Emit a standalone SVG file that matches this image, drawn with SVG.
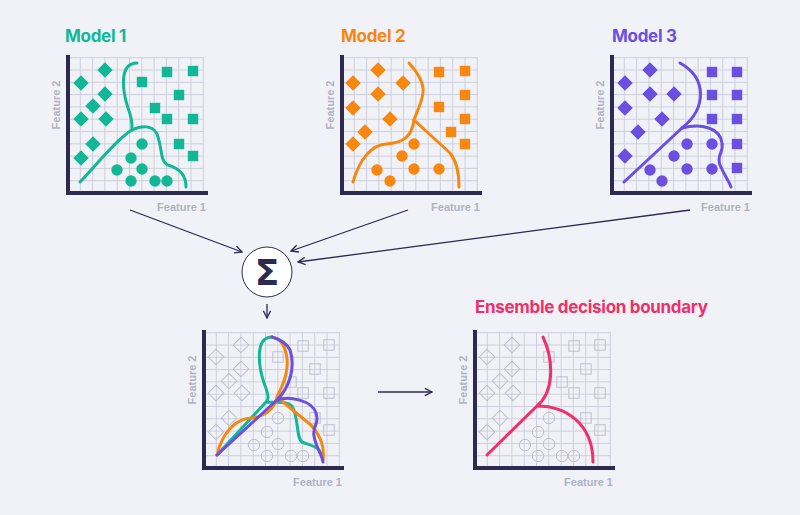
<svg xmlns="http://www.w3.org/2000/svg" xmlns:xlink="http://www.w3.org/1999/xlink" width="800" height="515" viewBox="0 0 800 515">
<style>
.grid{stroke:#cdd0dc;stroke-width:1;fill:none}
.axis{stroke:#2c2b4f;stroke-width:4;fill:none;stroke-linecap:square}
.ft{font-family:"Liberation Sans",Arial,sans-serif;font-size:11px;font-weight:bold;fill:#aeb2c4}
.title{font-family:Inter,"Liberation Sans",sans-serif;font-size:17px;font-weight:bold;letter-spacing:-0.3px}
.cv{fill:none;stroke-width:3;stroke-linecap:round;stroke-linejoin:round}
.ol{fill:none;stroke:#bcc0cf;stroke-width:1}
.conn{stroke:#2c2b4f;stroke-width:1.3;fill:none}
</style>
<defs>
<marker id="ah" viewBox="0 0 10 10" refX="9" refY="5" markerWidth="9" markerHeight="9" orient="auto" markerUnits="userSpaceOnUse"><path d="M1,1 L9,5 L1,9" fill="none" stroke="#2c2b4f" stroke-width="1.5"/></marker>
<g id="plot">
<path class="grid" d="M12.3,-136V0M24.6,-136V0M36.9,-136V0M49.2,-136V0M61.5,-136V0M73.8,-136V0M86.1,-136V0M98.4,-136V0M110.7,-136V0M123,-136V0M135.3,-136V0M0,-12.3H136M0,-24.6H136M0,-36.9H136M0,-49.2H136M0,-61.5H136M0,-73.8H136M0,-86.1H136M0,-98.4H136M0,-110.7H136M0,-123H136M0,-135.3H136"/>
<path class="axis" d="M0,-136V0H138"/>
</g>
<rect id="d" x="-5.5" y="-5.5" width="11" height="11" transform="rotate(45)"/>
<rect id="s" x="-5.2" y="-5.2" width="10.4" height="10.4"/>
<circle id="c" r="5.7"/>
<g id="ghost" class="ol">
<use href="#d" x="37" y="-123"/><use href="#d" x="12" y="-111"/><use href="#d" x="37" y="-99"/><use href="#d" x="25" y="-87"/><use href="#d" x="12" y="-75"/><use href="#d" x="38" y="-75"/><use href="#d" x="25" y="-50"/><use href="#d" x="12" y="-36"/>
<use href="#s" x="74" y="-111"/><use href="#s" x="99" y="-122"/><use href="#s" x="125" y="-123"/><use href="#s" x="111" y="-99"/><use href="#s" x="87" y="-86"/><use href="#s" x="99" y="-75"/><use href="#s" x="125" y="-75"/><use href="#s" x="111" y="-50"/><use href="#s" x="125" y="-38"/>
<use href="#c" x="74" y="-50"/><use href="#c" x="63" y="-36"/><use href="#c" x="50" y="-23"/><use href="#c" x="74" y="-24"/><use href="#c" x="63" y="-12"/><use href="#c" x="87" y="-12"/><use href="#c" x="99" y="-12"/>
</g>
</defs>
<rect width="800" height="515" fill="#f1f2f7"/>

<g id="model1" transform="translate(68,193)">
<text class="title" x="-3" y="-151" fill="#12b896">Model 1</text>
<use href="#plot"/>
<text class="ft" transform="translate(-8,-88) rotate(-90)" text-anchor="middle">Feature 2</text>
<text class="ft" x="138" y="18" text-anchor="end">Feature 1</text>
<g fill="#12b896">
<use href="#d" x="37" y="-123"/><use href="#d" x="13" y="-110"/><use href="#d" x="37" y="-99"/><use href="#d" x="25" y="-87"/><use href="#d" x="13" y="-74"/><use href="#d" x="38" y="-74"/><use href="#d" x="25" y="-49"/><use href="#d" x="13" y="-35"/>
<use href="#s" x="74" y="-111"/><use href="#s" x="99" y="-121"/><use href="#s" x="125" y="-122"/><use href="#s" x="111" y="-98"/><use href="#s" x="87" y="-85"/><use href="#s" x="99" y="-74"/><use href="#s" x="125" y="-74"/><use href="#s" x="111" y="-49"/><use href="#s" x="125" y="-37"/>
<use href="#c" x="74" y="-49"/><use href="#c" x="63" y="-35"/><use href="#c" x="49" y="-23"/><use href="#c" x="74" y="-24"/><use href="#c" x="63" y="-12"/><use href="#c" x="87" y="-12"/><use href="#c" x="99" y="-12"/>
</g>
<g class="cv" stroke="#12b896">
<path d="M69,-130 C50,-130 55,-100 60,-85 C65,-72 64,-66 64,-63"/>
<path d="M12,-11 C30,-30 50,-55 64,-63 C75,-68 87,-68 90,-56 C95,-40 92,-32 100,-28 C112,-24 118,-18 118,-6"/>
</g>
</g>

<g id="model2" transform="translate(342,193)">
<text class="title" x="-1" y="-151" fill="#f7870f">Model 2</text>
<use href="#plot"/>
<text class="ft" transform="translate(-8,-88) rotate(-90)" text-anchor="middle">Feature 2</text>
<text class="ft" x="138" y="18" text-anchor="end">Feature 1</text>
<g fill="#f7870f">
<use href="#d" x="36" y="-123"/><use href="#d" x="11" y="-110"/><use href="#d" x="61" y="-110"/><use href="#d" x="36" y="-99"/><use href="#d" x="11" y="-85"/><use href="#d" x="48" y="-74"/><use href="#d" x="23" y="-61"/><use href="#d" x="11" y="-49"/>
<use href="#s" x="97" y="-121"/><use href="#s" x="123" y="-122"/><use href="#s" x="123" y="-98"/><use href="#s" x="97" y="-86"/><use href="#s" x="123" y="-74"/><use href="#s" x="109" y="-61"/><use href="#s" x="123" y="-49"/>
<use href="#c" x="72" y="-49"/><use href="#c" x="60" y="-37"/><use href="#c" x="35" y="-23"/><use href="#c" x="72" y="-24"/><use href="#c" x="97" y="-24"/><use href="#c" x="48" y="-12"/>
</g>
<g class="cv" stroke="#f7870f">
<path d="M67,-130 C90,-105 80,-95 72,-73"/>
<path d="M72,-73 L108,-40 C116,-30 117,-15 117,-6"/>
<path d="M11,-11 C18,-35 30,-48 44,-49 C62,-50 70,-57 72,-73"/>
</g>
</g>

<g id="model3" transform="translate(612,193)">
<text class="title" x="0" y="-151" fill="#6a4fe0">Model 3</text>
<use href="#plot"/>
<text class="ft" transform="translate(-8,-88) rotate(-90)" text-anchor="middle">Feature 2</text>
<text class="ft" x="138" y="18" text-anchor="end">Feature 1</text>
<g fill="#6a4fe0">
<use href="#d" x="38" y="-123"/><use href="#d" x="13" y="-110"/><use href="#d" x="38" y="-99"/><use href="#d" x="62" y="-99"/><use href="#d" x="13" y="-85"/><use href="#d" x="50" y="-74"/><use href="#d" x="26" y="-61"/><use href="#d" x="13" y="-37"/>
<use href="#s" x="100" y="-121"/><use href="#s" x="125" y="-121"/><use href="#s" x="100" y="-98"/><use href="#s" x="125" y="-98"/><use href="#s" x="100" y="-74"/><use href="#s" x="125" y="-74"/><use href="#s" x="125" y="-49"/><use href="#s" x="125" y="-25"/>
<use href="#c" x="75" y="-49"/><use href="#c" x="100" y="-49"/><use href="#c" x="62" y="-37"/><use href="#c" x="38" y="-23"/><use href="#c" x="75" y="-24"/><use href="#c" x="100" y="-24"/><use href="#c" x="50" y="-12"/>
</g>
<g class="cv" stroke="#6a4fe0">
<path d="M68,-130 C95,-115 95,-85 70,-65"/>
<path d="M12,-11 L70,-65 C90,-70 108,-65 110,-50 C112,-40 104,-38 108,-28 C112,-18 117,-12 119,-6"/>
</g>
</g>

<g id="sum">
<circle cx="267" cy="272" r="25" fill="#fff" stroke="#2c2b4f" stroke-width="1"/>
<text x="267" y="285" text-anchor="middle" font-family="'DejaVu Sans',sans-serif" font-size="36" font-weight="bold" fill="#2c2b4f">Σ</text>
</g>

<g id="combined" transform="translate(204,468)">
<use href="#plot"/>
<use href="#ghost"/>
<text class="ft" transform="translate(-8,-88) rotate(-90)" text-anchor="middle">Feature 2</text>
<text class="ft" x="138" y="18" text-anchor="end">Feature 1</text>
<g class="cv">
<path stroke="#12b896" d="M68,-131 C50,-131 55,-100 60,-85 C66,-70 64,-68 62,-66 L13,-13 M62,-66 C70,-65 82,-68 88,-62 C95,-50 92,-30 98,-26 C108,-22 116,-22 118,-11"/>
<path stroke="#f7870f" d="M13,-13 C18,-35 32,-50 48,-50 C62,-52 70,-58 73,-71 C80,-85 86,-100 82,-115 C80,-125 74,-130 68,-131 M73,-71 L108,-42 C116,-32 121,-22 119,-8"/>
<path stroke="#6a4fe0" d="M13,-13 L73,-68 C85,-80 92,-100 86,-118 C82,-126 75,-129 68,-131 M73,-68 C85,-72 108,-68 112,-55 C116,-44 108,-42 110,-32 C112,-20 118,-14 119,-6"/>
</g>
</g>

<g id="ensemble" transform="translate(475,468)">
<text class="title" x="0" y="-155" fill="#f0306a">Ensemble decision boundary</text>
<use href="#plot"/>
<use href="#ghost"/>
<text class="ft" transform="translate(-8,-88) rotate(-90)" text-anchor="middle">Feature 2</text>
<text class="ft" x="138" y="18" text-anchor="end">Feature 1</text>
<path class="cv" stroke="#f0306a" d="M68,-131 C80,-105 78,-75 62,-62 L12,-13 M62,-62 C90,-62 118,-45 118,-6"/>
</g>

<g id="connectors">
<path class="conn" marker-end="url(#ah)" d="M130,210 L242,252"/>
<path class="conn" marker-end="url(#ah)" d="M408,210 L291,251"/>
<path class="conn" marker-end="url(#ah)" d="M690,210 L298,262"/>
<path class="conn" marker-end="url(#ah)" d="M267,304 L267,318"/>
<path class="conn" marker-end="url(#ah)" d="M378,392 L432,392"/>
</g>
</svg>
